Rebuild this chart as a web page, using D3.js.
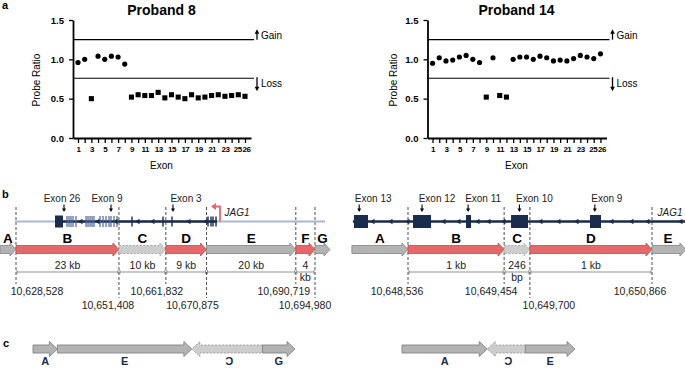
<!DOCTYPE html>
<html>
<head>
<meta charset="utf-8">
<script src="https://cdn.jsdelivr.net/npm/d3@7"></script>
<style>
  body { margin: 0; background: #fff; }
  svg { font-family: "Liberation Sans", Arial, Helvetica, sans-serif; }
</style>
</head>
<body>
<div id="chart"></div>
<script>
// ---- panel a: MLPA probe ratios ----
const exonNumbers = [1,2,3,4,5,6,7,8,9,10,11,12,13,14,15,16,17,18,19,20,21,22,23,24,25,26];
const xTickLabels = [1,3,5,7,9,11,13,15,17,19,21,23,25,26];
const yTicks = [0, 0.5, 1.0, 1.5];
const proband8 = [0.96,1.00,0.50,1.04,1.00,1.04,1.03,0.94,0.52,0.55,0.54,0.54,0.58,0.51,0.55,0.52,0.50,0.55,0.51,0.52,0.54,0.55,0.53,0.54,0.55,0.53];
const proband8Loss = [3,9,10,11,12,13,14,15,16,17,18,19,20,21,22,23,24,25,26];
const proband14 = [0.95,1.02,0.98,0.99,1.03,1.05,1.00,0.96,0.52,1.02,0.54,0.52,1.00,1.03,1.03,1.00,1.04,1.02,0.98,0.99,0.98,1.01,1.05,1.03,1.01,1.07];
const proband14Loss = [9,11,12];
const gainLevel = 1.25;
const lossLevel = 0.76;

// ---- panel b: breakpoint maps ----
const leftBreaks = [10628528, 10651408, 10661832, 10670875, 10690719, 10694980];
const leftView = [10624970, 10698310];
const leftSegments = ["A","B","C","D","E","F","G"];
const leftTypes = ["flank","dup","inv","dup","flank","dup","flank"];
const leftSizes = [["23 kb"],["10 kb"],["9 kb"],["20 kb"],["4","kb"]];
const leftBackbone = [10628300, 10697200];
const leftGene = [10637200, 10673200];
const leftBigExon = [10637200, 10638970];
const leftThinExons = [10639860,10640310,10640750,10641200,10641860,10644090,10644530,10644980,10645420,10645860,10647200,10647860,10648530,10649200,10649640,10650310,10650980];
const leftExons = [10654310,10661200,10663200,10671200,10671870,10672310,10672980];
const leftIntronArrows = [10642750,10646530,10650530,10655420,10658750,10666760,10670530];
const leftMarkNames = ["Exon 26","Exon 9","Exon 3"];
const leftMarkPos = [10639200, 10649640, 10663420];

const rightBreaks = [10648536, 10649454, 10649700, 10650866];
const rightView = [10648000, 10651190];
const rightSegments = ["A","B","C","D","E"];
const rightTypes = ["flank","dup","inv","dup","flank"];
const rightSizes = [["1 kb"],["246","bp"],["1 kb"]];
const rightGene = [10648010, 10651190];
const rightExonStart = [10648020, 10648584, 10649090, 10649520, 10650274];
const rightExonEnd   = [10648154, 10648756, 10649138, 10649682, 10650379];
const rightIntronArrows = [10648192,10648364,10648526,10648870,10649013,10649195,10649300,10649443,10649796,10649968,10650140,10650474,10650665,10650818,10651133];
const rightMarkNames = ["Exon 13","Exon 12","Exon 11","Exon 10","Exon 9"];
const rightMarkPos = [10648070, 10648670, 10649110, 10649600, 10650320];

// ---- panel c: rearranged alleles (segment lengths in kb) ----
const leftAllele = ["A","E","C","G"];
const leftAlleleKb = [3.6, 19.84, 10.42, 4.8];
const leftAlleleDir = [1, 1, -1, 1];
const rightAllele = ["A","C","E"];
const rightAlleleKb = [0.55, 0.246, 0.32];
const rightAlleleDir = [1, -1, 1];

const navy = "#1b2b4b";
const styles = {
  flank: {fill: "#b3b3b3", stroke: "#858585", dash: null},
  dup:   {fill: "#e5696b", stroke: "#c04b4d", dash: null},
  inv:   {fill: "#cdcdcd", stroke: "#9a9a9a", dash: "2,1.5"}
};

const svg = d3.select("#chart").append("svg")
  .attr("width", 685).attr("height", 368);
svg.append("rect").attr("width", 685).attr("height", 368).attr("fill", "#fff");

// panel letters
[["a", 2, 9], ["b", 2, 198], ["c", 3, 347]].forEach(p => {
  svg.append("text").attr("x", p[1]).attr("y", p[2])
    .attr("font-size", 11).attr("font-weight", "bold").text(p[0]);
});

function arrowPath(x0, x1, cy, bh, hh, hl, dir) {
  if (dir > 0) {
    const xb = Math.max(x0, x1 - hl);
    return `M${x0},${cy - bh / 2}H${xb}V${cy - hh / 2}L${x1},${cy}L${xb},${cy + hh / 2}V${cy + bh / 2}H${x0}Z`;
  }
  const xb = Math.min(x1, x0 + hl);
  return `M${x1},${cy - bh / 2}H${xb}V${cy - hh / 2}L${x0},${cy}L${xb},${cy + hh / 2}V${cy + bh / 2}H${x1}Z`;
}

// ---------------- panel a ----------------
function probePlot(title, values, lossExons, x0, x1, labelX) {
  const g = svg.append("g");
  const x = d3.scaleLinear().domain([0.25, 26.9]).range([x0, x1]);
  const y = d3.scaleLinear().domain([0, 1.5]).range([138, 20]);
  const cx = (x0 + x1) / 2 - 0.5;

  g.append("text").attr("x", cx).attr("y", 15).attr("text-anchor", "middle")
    .attr("font-size", 14).attr("font-weight", "bold").text(title);

  const yAxis = g.append("g").attr("transform", `translate(${x0},0)`)
    .call(d3.axisLeft(y).tickValues(yTicks).tickFormat(d3.format(".1f"))
      .tickSize(4).tickSizeOuter(0).tickPadding(5));
  yAxis.selectAll("text").attr("font-size", 9.5).attr("font-weight", "bold")
    .attr("font-family", "Liberation Sans, Arial, sans-serif");

  const xAxis = g.append("g").attr("transform", "translate(0,138)")
    .call(d3.axisBottom(x).tickValues(exonNumbers)
      .tickFormat(d => xTickLabels.includes(d) ? d : "")
      .tickSize(5).tickSizeOuter(0).tickPadding(3));
  xAxis.selectAll("text").attr("font-size", 8).attr("font-weight", "bold")
    .attr("letter-spacing", -0.5)
    .attr("font-family", "Liberation Sans, Arial, sans-serif");
  // keep the last pair of labels apart, as in the original
  xAxis.selectAll(".tick").filter(d => d === 25).select("text").attr("dx", -1);
  xAxis.selectAll(".tick").filter(d => d === 26).select("text").attr("dx", 1);
  g.selectAll(".domain").attr("stroke-width", 1.8);
  g.selectAll(".tick line").attr("stroke-width", 1.3);

  g.append("text").attr("transform", `translate(${labelX},80) rotate(-90)`)
    .attr("text-anchor", "middle").attr("font-size", 10).text("Probe Ratio");
  g.append("text").attr("x", cx).attr("y", 169).attr("text-anchor", "middle")
    .attr("font-size", 10).text("Exon");

  // gain / loss thresholds
  const lineEnd = x1 + 3;
  [gainLevel, lossLevel].forEach(v => {
    g.append("line").attr("x1", x0).attr("x2", lineEnd)
      .attr("y1", y(v)).attr("y2", y(v)).attr("stroke", "#000").attr("stroke-width", 1.1);
  });
  const ax = lineEnd + 3;
  const gy = y(gainLevel), ly = y(lossLevel);
  g.append("line").attr("x1", ax).attr("x2", ax).attr("y1", gy - 7).attr("y2", gy)
    .attr("stroke", "#000").attr("stroke-width", 1.3);
  g.append("path").attr("d", `M${ax - 2.3},${gy - 6}L${ax},${gy - 10.5}L${ax + 2.3},${gy - 6}Z`);
  g.append("line").attr("x1", ax).attr("x2", ax).attr("y1", ly - 1).attr("y2", ly + 10)
    .attr("stroke", "#000").attr("stroke-width", 1.3);
  g.append("path").attr("d", `M${ax - 2.3},${ly + 8.5}L${ax},${ly + 13}L${ax + 2.3},${ly + 8.5}Z`);
  g.append("text").attr("x", ax + 4).attr("y", gy - 1).attr("font-size", 10).text("Gain");
  g.append("text").attr("x", ax + 4).attr("y", ly + 8.5).attr("font-size", 10).text("Loss");

  // points
  g.selectAll(".pt").data(exonNumbers).enter().append("path")
    .attr("class", "pt")
    .attr("transform", (d, i) => `translate(${x(d)},${y(values[i])})`)
    .attr("d", d => lossExons.includes(d)
      ? d3.symbol(d3.symbolSquare, 26)()
      : d3.symbol(d3.symbolCircle, 21)())
    .attr("fill", "#000");
}

probePlot("Proband 8", proband8, proband8Loss, 73, 251, 40);
probePlot("Proband 14", proband14, proband14Loss, 427.5, 606.5, 397);

// ---------------- panel b ----------------
function breakMap(opts) {
  const g = svg.append("g");
  const xs = d3.scaleLinear().domain([opts.breaks[0], opts.breaks[opts.breaks.length - 1]])
    .range(opts.range);
  const geneY = 221.5;

  // dashed breakpoint lines
  opts.breaks.forEach((b, i) => {
    g.append("line").attr("x1", xs(b)).attr("x2", xs(b))
      .attr("y1", 207).attr("y2", opts.labelRow[i] ? 298 : 284)
      .attr("stroke", "#222").attr("stroke-width", 0.8).attr("stroke-dasharray", "3,2");
  });

  opts.drawGene(g, xs, geneY);

  // exon markers
  opts.markNames.forEach((name, i) => {
    const mx = xs(opts.markPos[i]);
    g.append("line").attr("x1", mx).attr("x2", mx).attr("y1", 204.5).attr("y2", 209)
      .attr("stroke", "#000").attr("stroke-width", 1.1);
    g.append("path").attr("d", `M${mx - 2},${208.5}L${mx},${212}L${mx + 2},${208.5}Z`);
    g.append("text").attr("x", mx + opts.markDx[i]).attr("y", 202)
      .attr("text-anchor", "middle").attr("font-size", 10).attr("fill", "#222").text(name);
  });

  // segment arrows and letters
  const edges = [opts.view[0]].concat(opts.breaks, [opts.view[1]]);
  opts.segments.forEach((s, i) => {
    const a = xs(edges[i]), b = xs(edges[i + 1]);
    const st = styles[opts.types[i]];
    g.append("path").attr("d", arrowPath(a, b, 249.5, 8, 13, 6, 1))
      .attr("fill", st.fill).attr("stroke", st.stroke).attr("stroke-width", 0.8)
      .attr("stroke-dasharray", st.dash);
    const lx = Math.max(opts.letterMin, Math.min(opts.letterMax, (a + b) / 2));
    g.append("text").attr("x", lx).attr("y", 243)
      .attr("text-anchor", "middle").attr("font-size", 13.5).attr("font-weight", "bold")
      .text(s);
  });

  // size bars
  opts.sizes.forEach((lab, i) => {
    const a = xs(opts.breaks[i]) + 1, b = xs(opts.breaks[i + 1]) - 1;
    g.append("line").attr("x1", a).attr("x2", b).attr("y1", 272).attr("y2", 272)
      .attr("stroke", "#777").attr("stroke-width", 0.8);
    [a, b].forEach(t => g.append("line").attr("x1", t).attr("x2", t)
      .attr("y1", 270).attr("y2", 274).attr("stroke", "#777").attr("stroke-width", 0.8));
    lab.forEach((t, j) => {
      g.append("text").attr("x", (a + b) / 2).attr("y", 269 + j * 12)
        .attr("text-anchor", "middle").attr("font-size", 10.5).attr("fill", "#222").text(t);
    });
  });

  // coordinates
  opts.breaks.forEach((b, i) => {
    g.append("text").attr("x", xs(b) + opts.labelDx[i])
      .attr("y", opts.labelRow[i] ? 309 : 295)
      .attr("text-anchor", "middle").attr("font-size", 10.5).attr("fill", "#222")
      .text(d3.format(",")(b));
  });
}

function leftGeneDraw(g, xs, gy) {
  g.append("line").attr("x1", xs(leftBackbone[0])).attr("x2", xs(leftBackbone[1]))
    .attr("y1", gy).attr("y2", gy).attr("stroke", "#a9b7d1").attr("stroke-width", 2);
  g.append("line").attr("x1", xs(leftGene[0])).attr("x2", xs(leftGene[1]))
    .attr("y1", gy).attr("y2", gy).attr("stroke", navy).attr("stroke-width", 2.5);
  g.append("rect").attr("x", xs(leftBigExon[0])).attr("width", xs(leftBigExon[1]) - xs(leftBigExon[0]))
    .attr("y", gy - 6).attr("height", 12).attr("fill", navy);
  leftThinExons.forEach(e => g.append("rect").attr("x", xs(e) - 0.6).attr("width", 1.2)
    .attr("y", gy - 5.5).attr("height", 11).attr("fill", "#4e6797"));
  leftExons.forEach(e => g.append("rect").attr("x", xs(e) - 0.7).attr("width", 1.4)
    .attr("y", gy - 5).attr("height", 10).attr("fill", navy));
  leftIntronArrows.forEach(e => {
    const ax = xs(e);
    g.append("path").attr("d", `M${ax + 2.5},${gy - 2.8}L${ax - 2},${gy}L${ax + 2.5},${gy + 2.8}Z`)
      .attr("fill", navy);
  });
  // transcription start
  const tx = xs(leftGene[1]) + 3;
  g.append("path").attr("d", `M${tx},${gy}V${gy - 15}H${tx - 5}`)
    .attr("fill", "none").attr("stroke", "#e5696b").attr("stroke-width", 1.8);
  g.append("path").attr("d", `M${tx - 4},${gy - 18.5}L${tx - 9},${gy - 15}L${tx - 4},${gy - 11.5}Z`)
    .attr("fill", "#e5696b");
  g.append("text").attr("x", tx + 17).attr("y", gy - 6).attr("text-anchor", "middle")
    .attr("font-size", 10).attr("font-style", "italic").attr("fill", "#222").text("JAG1");
}

function rightGeneDraw(g, xs, gy) {
  g.append("line").attr("x1", xs(rightGene[0])).attr("x2", xs(rightGene[1]))
    .attr("y1", gy).attr("y2", gy).attr("stroke", navy).attr("stroke-width", 2.5);
  rightExonStart.forEach((s, i) => g.append("rect").attr("x", xs(s))
    .attr("width", xs(rightExonEnd[i]) - xs(s)).attr("y", gy - 6.5).attr("height", 13)
    .attr("fill", navy));
  rightIntronArrows.forEach(e => {
    const ax = xs(e);
    g.append("path").attr("d", `M${ax + 2.5},${gy - 2.8}L${ax - 2},${gy}L${ax + 2.5},${gy + 2.8}Z`)
      .attr("fill", navy);
  });
  g.append("text").attr("x", 670).attr("y", gy - 6).attr("text-anchor", "middle")
    .attr("font-size", 10).attr("font-style", "italic").attr("fill", "#222").text("JAG1");
}

breakMap({
  breaks: leftBreaks, view: leftView, range: [16, 315], segments: leftSegments,
  types: leftTypes, sizes: leftSizes, markNames: leftMarkNames, markPos: leftMarkPos,
  markDx: [-2, -4, 13], labelRow: [0, 1, 0, 1, 0, 1], labelDx: [21, -11, -9, -14, -12, -10],
  letterMin: 7, letterMax: 324, drawGene: leftGeneDraw
});
breakMap({
  breaks: rightBreaks, view: rightView, range: [408, 652], segments: rightSegments,
  types: rightTypes, sizes: rightSizes, markNames: rightMarkNames, markPos: rightMarkPos,
  markDx: [14, 15, 15, 15, 12], labelRow: [0, 0, 1, 0], labelDx: [-11, -13, 19, -12],
  letterMin: 0, letterMax: 668, drawGene: rightGeneDraw
});

// ---------------- panel c ----------------
function allele(names, kb, dirs, range) {
  const g = svg.append("g");
  const xs = d3.scaleLinear().domain([0, d3.sum(kb)]).range(range);
  let acc = 0;
  names.forEach((n, i) => {
    const a = xs(acc), b = xs(acc + kb[i]);
    acc += kb[i];
    const st = n === "C" ? styles.inv : styles.flank;
    g.append("path").attr("d", arrowPath(a, b, 349, 8, 15, 8, dirs[i]))
      .attr("fill", st.fill).attr("stroke", st.stroke).attr("stroke-width", 0.9)
      .attr("stroke-dasharray", st.dash);
    const t = g.append("text").attr("text-anchor", "middle")
      .attr("font-size", 11).attr("font-weight", "bold").attr("fill", navy).text(n);
    if (dirs[i] < 0) t.attr("transform", `translate(${(a + b) / 2 + 2},365) scale(-1,1)`);
    else t.attr("x", (a + b) / 2).attr("y", 365);
  });
}
allele(leftAllele, leftAlleleKb, leftAlleleDir, [33, 295]);
allele(rightAllele, rightAlleleKb, rightAlleleDir, [402, 575]);
</script>
</body>
</html>
